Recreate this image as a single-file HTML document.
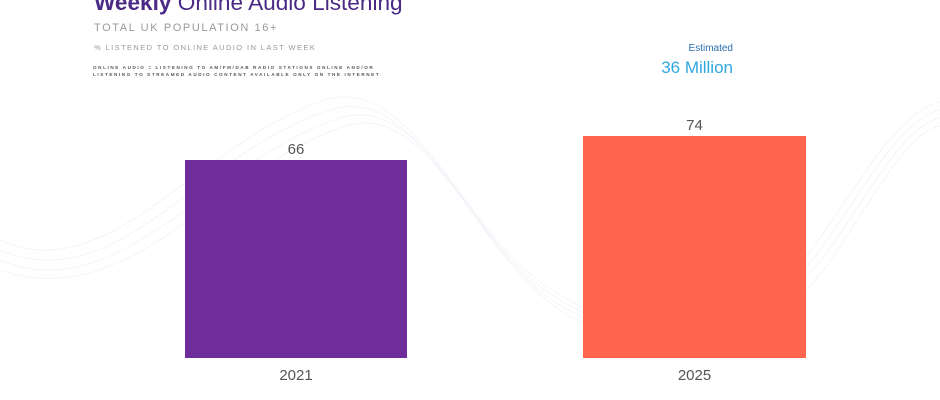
<!DOCTYPE html>
<html><head><style>
body{margin:0;width:940px;height:400px;background:#fff;position:relative;overflow:hidden;font-family:"Liberation Sans",sans-serif}
.t{position:absolute;white-space:nowrap}
</style></head><body>
<svg width="940" height="400" style="position:absolute;left:0;top:0" fill="none" stroke="#eeeef6" stroke-width="0.6">
<g>
<path d="M0 250 C120 300 200 150 330 110 C420 80 470 250 560 300 C650 350 720 380 820 250 C870 180 900 120 940 110"/>
<path d="M0 260 C120 310 210 160 340 118 C430 90 475 260 565 308 C655 355 725 385 825 255 C875 185 905 125 940 118"/>
<path d="M0 270 C130 315 215 170 345 126 C435 98 480 268 570 316 C660 360 730 388 830 262 C878 190 908 132 940 126"/>
<path d="M0 240 C110 290 200 140 325 100 C415 72 465 240 555 292 C645 345 715 375 815 245 C865 175 898 112 940 102"/>
</g></svg>
<div class="t" style="left:94px;top:-10px;font-size:22.6px;color:#4b2a85"><b>Weekly</b> Online Audio Listening</div>
<div class="t" style="left:94px;top:22px;font-size:11px;color:#999;letter-spacing:1.6px">TOTAL UK POPULATION 16+</div>
<div class="t" style="left:94px;top:43px;font-size:7.5px;color:#999;letter-spacing:1.4px">% LISTENED TO ONLINE AUDIO IN LAST WEEK</div>
<div class="t" style="left:93px;top:64px;font-size:4.6px;color:#555;letter-spacing:1.6px;line-height:7px;font-weight:bold">ONLINE AUDIO = LISTENING TO AM/FM/DAB RADIO STATIONS ONLINE AND/OR<br>LISTENING TO STREAMED AUDIO CONTENT AVAILABLE ONLY ON THE INTERNET</div>
<div class="t" style="right:207px;top:43px;font-size:10px;color:#2a6fb0">Estimated</div>
<div class="t" style="right:207px;top:58px;font-size:17px;color:#2fa8e0">36 Million</div>
<div style="position:absolute;left:185px;top:160px;width:222px;height:198px;background:#6f2d9b"></div>
<div style="position:absolute;left:583px;top:136px;width:223px;height:222px;background:#ff644e"></div>
<div class="t" style="left:185px;width:222px;text-align:center;top:141px;font-size:15px;color:#555">66</div>
<div class="t" style="left:583px;width:223px;text-align:center;top:117px;font-size:15px;color:#555">74</div>
<div class="t" style="left:185px;width:222px;text-align:center;top:367px;font-size:15px;color:#555">2021</div>
<div class="t" style="left:583px;width:223px;text-align:center;top:367px;font-size:15px;color:#555">2025</div>
</body></html>
